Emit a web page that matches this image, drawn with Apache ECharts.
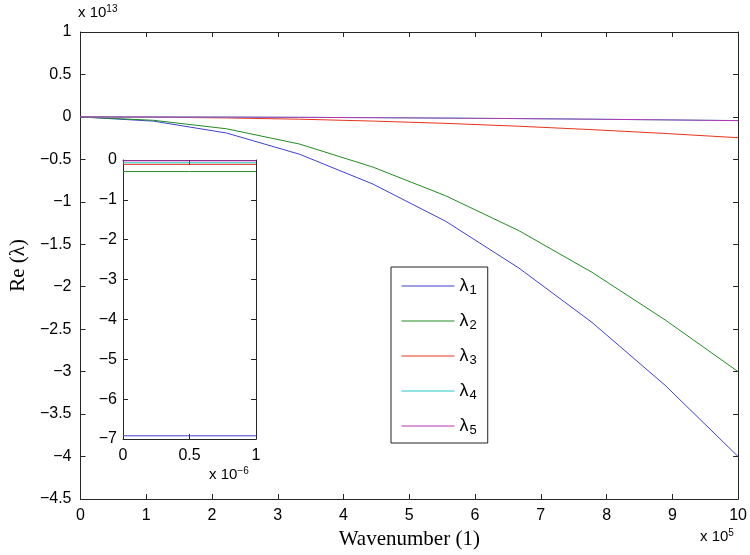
<!DOCTYPE html>
<html>
<head>
<meta charset="utf-8">
<script src="https://cdn.jsdelivr.net/npm/echarts@6/dist/echarts.min.js"></script>
<style>
  html, body { margin: 0; padding: 0; background: #fff; }
  #chart { width: 750px; height: 555px; }
</style>
</head>
<body>
<div id="chart"></div>
<script>
// main plot, x in units of 1e5, y in units of 1e13
var wavenumber = [0, 1.111, 2.222, 3.333, 4.444, 5.556, 6.667, 7.778, 8.889, 10];
var lambda1 = [0, -0.05, -0.19, -0.44, -0.79, -1.23, -1.78, -2.42, -3.16, -4.0];
var lambda2 = [0, -0.04, -0.14, -0.32, -0.59, -0.93, -1.34, -1.83, -2.39, -3.0];
var lambda3 = [0, -0.003, -0.012, -0.027, -0.049, -0.076, -0.11, -0.15, -0.195, -0.245];
var lambda4 = [0, -0.001, -0.002, -0.005, -0.009, -0.014, -0.02, -0.027, -0.035, -0.043];
var lambda5 = [0, -0.001, -0.002, -0.005, -0.009, -0.014, -0.02, -0.027, -0.035, -0.044];

// inset, x in units of 1e-6
var insetK = [0, 0.5, 1];
var inset1 = [-6.92, -6.92, -6.92];
var inset2 = [-0.29, -0.29, -0.29];
var inset3 = [-0.11, -0.11, -0.11];
var inset4 = [-0.07, -0.07, -0.07];
var inset5 = [-0.02, -0.02, -0.02];

var names = ['λ1', 'λ2', 'λ3', 'λ4', 'λ5'];
var colors = ['#4040d0', '#228b22', '#e8341c', '#22c4c4', '#b434b4'];
var mainData = [lambda1, lambda2, lambda3, lambda4, lambda5];
var insetData = [inset1, inset2, inset3, inset4, inset5];

function pairs(xs, ys) {
  return xs.map(function (x, i) { return [x, ys[i]]; });
}
function minus(v) { return String(v).replace('-', '\u2212'); }

var axisCol = '#262626';
var lblFont = { color: '#000', fontSize: 16, fontFamily: 'Liberation Sans' };

function axisBase(extra) {
  var a = {
    type: 'value',
    axisLine: { show: true, onZero: false, lineStyle: { color: axisCol, width: 1 } },
    axisTick: { show: true, inside: true, length: 5, lineStyle: { color: axisCol } },
    splitLine: { show: false },
    axisLabel: Object.assign({ formatter: minus }, lblFont)
  };
  return Object.assign(a, extra);
}

var series = [];
names.forEach(function (n, i) {
  series.push({
    name: n, type: 'line', xAxisIndex: 0, yAxisIndex: 0,
    data: pairs(wavenumber, mainData[i]),
    symbol: 'none', lineStyle: { color: colors[i], width: 1 },
    itemStyle: { color: colors[i] }, z: 2
  });
});
names.forEach(function (n, i) {
  series.push({
    name: n, type: 'line', xAxisIndex: 2, yAxisIndex: 2,
    data: pairs(insetK, insetData[i]),
    symbol: 'none', lineStyle: { color: colors[i], width: 1 },
    itemStyle: { color: colors[i] }, z: 8
  });
});

var chart = echarts.init(document.getElementById('chart'), null, { renderer: 'canvas' });
chart.setOption({
  animation: false,
  backgroundColor: '#fff',
  grid: [
    { left: 77, right: 11, top: 32, bottom: 56, containLabel: false },
    { left: 123, right: 494, top: 160, bottom: 116, containLabel: false,
      show: true, backgroundColor: '#fff', borderWidth: 0, z: 5 }
  ],
  xAxis: [
    axisBase({ gridIndex: 0, position: 'bottom', min: 0, max: 10, interval: 1,
      axisLabel: Object.assign({ margin: 9, formatter: minus }, lblFont),
      name: 'Wavenumber (1)', nameLocation: 'middle', nameGap: 27,
      nameTextStyle: { fontFamily: 'Liberation Serif', fontSize: 21, color: '#000' } }),
    axisBase({ gridIndex: 0, position: 'top', min: 0, max: 10, interval: 1,
      axisLabel: { show: false } }),
    axisBase({ gridIndex: 1, position: 'bottom', min: 0, max: 1, interval: 0.5, z: 6,
      axisLabel: Object.assign({ margin: 9, formatter: minus }, lblFont) }),
    axisBase({ gridIndex: 1, position: 'top', min: 0, max: 1, interval: 0.5, z: 6,
      axisLabel: { show: false } })
  ],
  yAxis: [
    axisBase({ gridIndex: 0, position: 'left', min: -4.5, max: 1, interval: 0.5,
      axisLabel: Object.assign({ margin: 9, formatter: minus }, lblFont),
      name: 'Re (λ)', nameLocation: 'middle', nameGap: 50, nameRotate: 90,
      nameTextStyle: { fontFamily: 'Liberation Serif', fontSize: 21, color: '#000' } }),
    axisBase({ gridIndex: 0, position: 'right', min: -4.5, max: 1, interval: 0.5,
      axisLabel: { show: false } }),
    axisBase({ gridIndex: 1, position: 'left', min: -7, max: 0, interval: 1, z: 6,
      axisLabel: Object.assign({ margin: 6, formatter: minus }, lblFont) }),
    axisBase({ gridIndex: 1, position: 'right', min: -7, max: 0, interval: 1, z: 6,
      axisLabel: { show: false } })
  ],
  legend: {
    data: names,
    orient: 'vertical',
    left: 391, top: 267,
    padding: [10, 11, 6, 10],
    itemWidth: 53, itemHeight: 14, itemGap: 15,
    borderColor: '#222', borderWidth: 1,
    backgroundColor: '#fff',
    selectedMode: false,
    itemStyle: { opacity: 0 },
    lineStyle: { width: 1 },
    formatter: function (n) { return '{l|λ}{s|' + n.slice(1) + '}'; },
    textStyle: {
      color: '#000',
      rich: {
        l: { fontSize: 18, fontFamily: 'Liberation Sans', color: '#000' },
        s: { fontSize: 13, fontFamily: 'Liberation Sans', color: '#000', padding: [9, 0, 0, 1] }
      }
    }
  },
  graphic: [
    { type: 'text', left: 78, top: 4, z: 10,
      style: { text: '{a|x 10}{b|13}', rich: {
        a: { fontSize: 15, fontFamily: 'Liberation Sans', fill: '#000', padding: [7, 0, 0, 0] },
        b: { fontSize: 10, fontFamily: 'Liberation Sans', fill: '#000' } } } },
    { type: 'text', left: 700, top: 528, z: 10,
      style: { text: '{a|x 10}{b|5}', rich: {
        a: { fontSize: 15, fontFamily: 'Liberation Sans', fill: '#000', padding: [7, 0, 0, 0] },
        b: { fontSize: 10, fontFamily: 'Liberation Sans', fill: '#000' } } } },
    { type: 'text', left: 209, top: 466, z: 10,
      style: { text: '{a|x 10}{b|\u22126}', rich: {
        a: { fontSize: 15, fontFamily: 'Liberation Sans', fill: '#000', padding: [7, 0, 0, 0] },
        b: { fontSize: 10, fontFamily: 'Liberation Sans', fill: '#000' } } } }
  ],
  series: series
});
</script>
</body>
</html>
